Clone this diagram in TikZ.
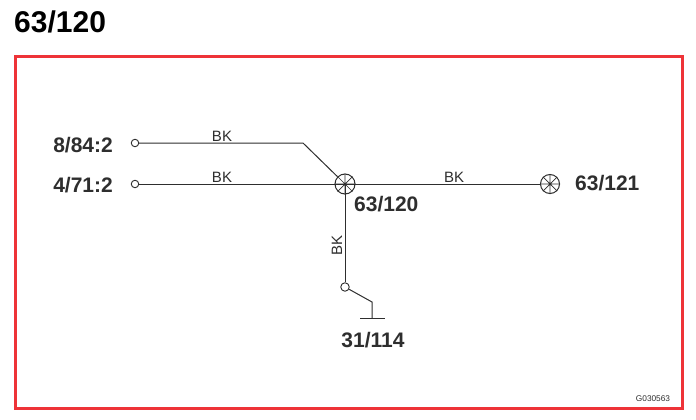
\documentclass[tikz,border=0pt]{standalone}
\usepackage{fontspec}
\setmainfont{Liberation Sans}
\definecolor{frame}{HTML}{EE3338}
\definecolor{ink}{HTML}{2E2E2E}
\tikzset{
  wire/.style={draw=ink,line width=1pt},
  term/.style={circle,draw=ink,line width=0.9pt,inner sep=0pt,minimum size=7.5pt,fill=white},
  lamp/.style={circle,draw=ink,line width=1pt,inner sep=0pt,minimum size=#1},
  ref/.style={font=\fontsize{21}{21}\selectfont\bfseries,text=ink,inner sep=0pt},
  wirelabel/.style={font=\fontsize{15}{15}\selectfont,text=ink,inner sep=0pt},
}
\begin{document}
\begin{tikzpicture}[x=1pt,y=-1pt]
\useasboundingbox (0,0) rectangle (696,420);
\fill[white] (0,0) rectangle (696,420);
\node[font=\fontsize{30}{30}\selectfont\bfseries,anchor=west,inner sep=0pt] (title) at (14,22) {63/120};
\node[draw=frame,line width=3pt,outer sep=0pt,minimum width=667.5pt,minimum height=352pt,inner sep=0pt,anchor=north west] (frame) at (15,56.5) {};
\coordinate (bend) at (303,143);
\coordinate (gndknee) at (372,302);
\coordinate (gndtop) at (372,318);
\coordinate (gndl) at (360,318);
\coordinate (gndr) at (385,318);
\node[lamp=20pt] (j) at (345,184) {};
\node[lamp=19pt] (l) at (550,184) {};
\node[term] (a) at (135,143) {};
\node[term] (b) at (135,184) {};
\node[term,minimum size=8.5pt] (c) at (345,287) {};
\draw[wire] (a) -- (bend) -- (j);
\draw[wire] (b) -- (j.center);
\draw[wire] (j.center) -- (l);
\draw[wire] (j.center) -- (c);
\draw[wire] (c) -- (gndknee) -- (gndtop);
\draw[wire] (gndl) -- (gndr);
\foreach \n in {j,l}{
  \draw[draw=ink,line width=0.7pt] (\n.north) -- (\n.south) (\n.east) -- (\n.west) (\n.north east) -- (\n.south west) (\n.north west) -- (\n.south east);
}
\node[ref,anchor=east] (la) at (113,145) {8/84:2};
\node[ref,anchor=east] (lb) at (113,185) {4/71:2};
\node[ref,anchor=west] (lj) at (354,204) {63/120};
\node[ref,anchor=west] (ll) at (575,183.5) {63/121};
\node[ref] (lg) at (373,340) {31/114};
\node[wirelabel] (w1) at (222,136) {BK};
\node[wirelabel] (w2) at (222,177) {BK};
\node[wirelabel] (w3) at (454,177) {BK};
\node[wirelabel,rotate=90] (w4) at (337,245) {BK};
\node[font=\fontsize{8.3}{8.3}\selectfont,text=ink,inner sep=0pt] (code) at (653,398.5) {G030563};
\end{tikzpicture}
\end{document}
